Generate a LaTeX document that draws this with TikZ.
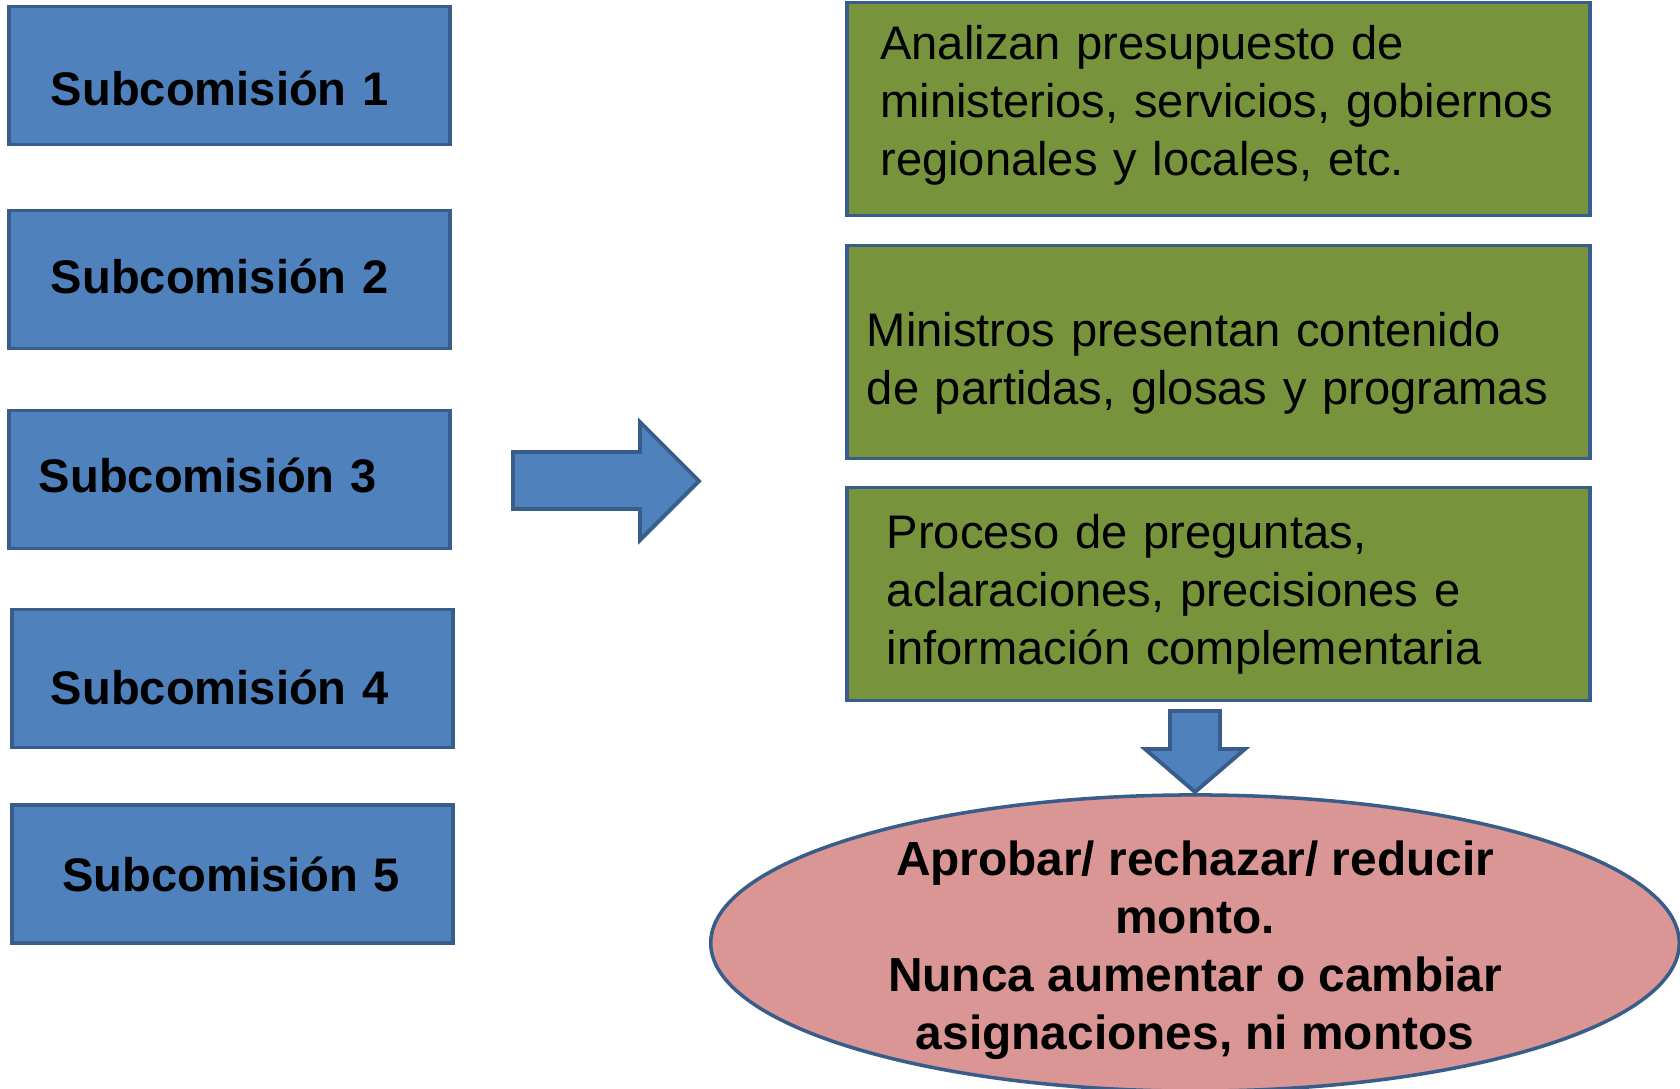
\documentclass[tikz,border=0pt]{standalone}
\usepackage{fontspec}
\setmainfont{Liberation Sans}
\usepackage{tikz}
\usetikzlibrary{shapes.geometric}
\definecolor{azul}{HTML}{4F81BD}
\definecolor{borde}{HTML}{385D8A}
\definecolor{verde}{HTML}{77933C}
\definecolor{rosa}{HTML}{D99694}
\tikzstyle{flecha} = [draw=borde, fill=azul, line width=1.1pt, line join=miter]
\tikzset{
 sub/.style
  = {rectangle, draw=borde, fill=azul, line width=1pt, minimum width=4.41cm,
     minimum height=1.38cm, align=left, font=\bfseries\fontsize{13.4}{16.5}\selectfont},
 paso/.style
  = {rectangle, draw=borde, fill=verde, line width=1pt, minimum width=7.43cm,
     minimum height=2.13cm, align=left, font=\fontsize{13.4}{16.5}\selectfont},
 fin/.style
  = {ellipse, draw=borde, fill=rosa, line width=1pt, minimum width=9.68cm,
     minimum height=2.96cm},
}

\begin{document}
\begin{tikzpicture}[x=0.01cm, y=-0.01cm]
\useasboundingbox (0,0) rectangle (1680,1088);

% Subcomisiones
\node[sub, text width=3.57cm, text height=17pt, text depth=0pt] (s1) at (229.5,75.5) {Subcomisión 1};
\node[sub, text width=3.57cm, text depth=2pt] (s2) at (229.5,279.5) {Subcomisión 2};
\node[sub, text width=3.81cm, text depth=2.5pt] (s3) at (229.5,479.5) {Subcomisión 3};
\node[sub, text width=3.63cm, text height=15pt, text depth=0pt] (s4) at (232.5,678.5) {Subcomisión 4};
\node[sub, text width=3.40cm] (s5) at (232.5,874) {Subcomisión 5};

% Flecha a la derecha
\draw[flecha] (513,452) -- (640,452) -- (640,422) -- (699,481) -- (640,540)
  -- (640,509) -- (513,509) -- cycle;

% Pasos
\node[paso, text width=6.76cm, text height=7.4pt] (p1) at (1218.5,109)
  {Analizan presupuesto de\\ministerios, servicios, gobiernos\\regionales y locales, etc.};
\node[paso, text width=7.03cm, text height=16pt] (p2) at (1218.5,352)
  {Ministros presentan contenido\\de partidas, glosas y programas};
\node[paso, text width=6.63cm] (p3) at (1218.5,594)
  {Proceso de preguntas,\\aclaraciones, precisiones e\\información complementaria};

% Flecha hacia abajo
\draw[flecha] (1170,711) -- (1220,711) -- (1220,749) -- (1245,749) -- (1195,792)
  -- (1145,749) -- (1170,749) -- cycle;

% Resultado
\node[fin, label={[align=center, yshift=-0.075cm, font=\bfseries\fontsize{13.6}{16.5}\selectfont]center:{Aprobar/ rechazar/ reducir\\monto.\\Nunca aumentar o cambiar\\asignaciones, ni montos}}] (res) at (1195,943) {};

\end{tikzpicture}
\end{document}
